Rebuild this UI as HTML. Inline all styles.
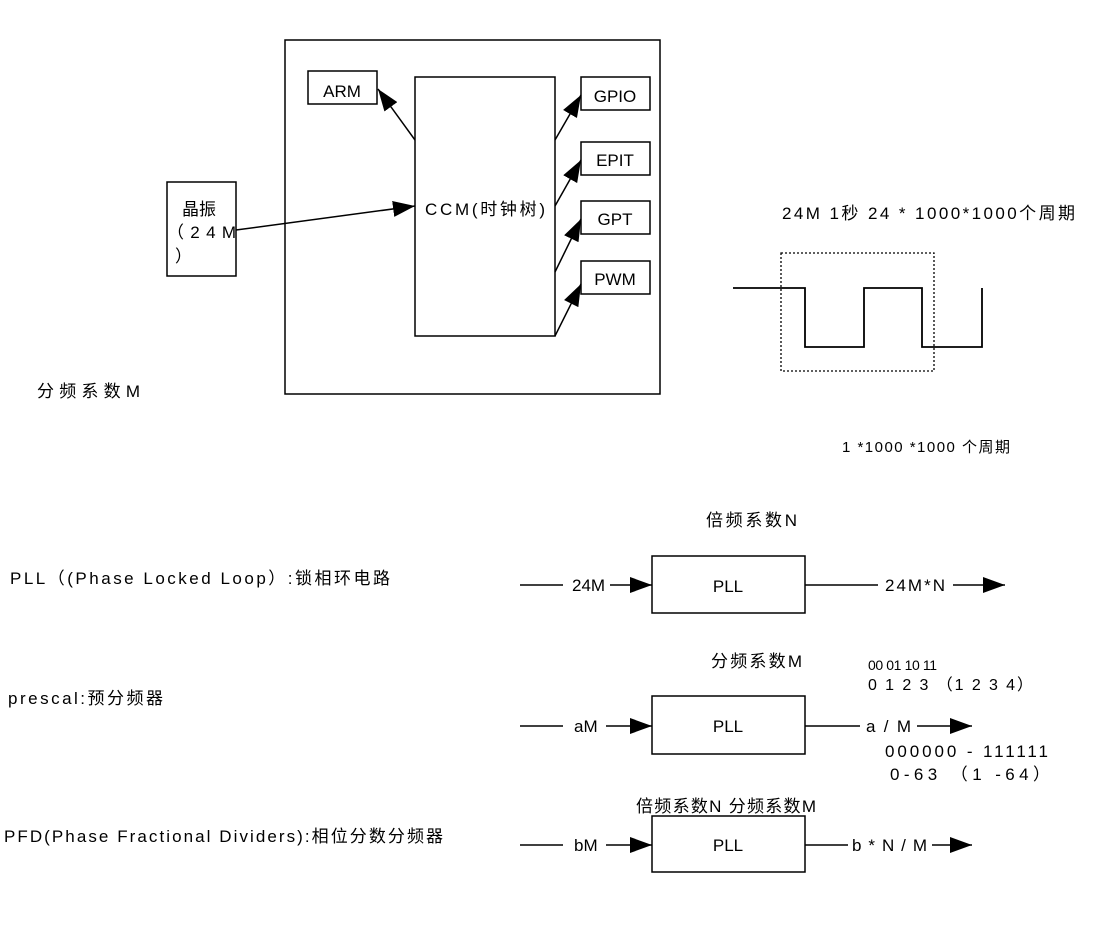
<!DOCTYPE html>
<html><head><meta charset="utf-8"><style>
html,body{margin:0;padding:0;background:#fff;}
svg text{font-family:"Liberation Sans","Noto Sans CJK SC",sans-serif;font-size:17px;fill:#000;}
</style></head><body>
<svg width="1100" height="946" viewBox="0 0 1100 946" xmlns="http://www.w3.org/2000/svg">
<defs>
<marker id="ah2" markerWidth="22" markerHeight="16" refX="22" refY="8" orient="auto" markerUnits="userSpaceOnUse" viewBox="0 0 22 16">
<path d="M0,0 L22,8 L0,16 z" fill="#000"/></marker>
</defs>
<g fill="none" stroke="#000" stroke-width="1.5">
<rect x="285" y="40" width="375" height="354"/>
<rect x="308" y="71" width="69" height="33"/>
<rect x="415" y="77" width="140" height="259"/>
<rect x="581" y="77" width="69" height="33"/>
<rect x="581" y="142" width="69" height="33"/>
<rect x="581" y="201" width="69" height="33"/>
<rect x="581" y="261" width="69" height="33"/>
<rect x="167" y="182" width="69" height="94"/>
<line x1="236" y1="230" x2="415" y2="206" marker-end="url(#ah2)"/>
<line x1="415" y1="140" x2="378" y2="89" marker-end="url(#ah2)"/>
<line x1="555" y1="140" x2="581" y2="95" marker-end="url(#ah2)"/>
<line x1="555" y1="206" x2="581" y2="160" marker-end="url(#ah2)"/>
<line x1="555" y1="272" x2="581" y2="219" marker-end="url(#ah2)"/>
<line x1="555" y1="336" x2="581" y2="284" marker-end="url(#ah2)"/>
<polyline points="733,288 805,288 805,347 864,347 864,288 922,288 922,347 982,347 982,288" stroke-width="1.8"/>
<rect x="781" y="253" width="153" height="118" stroke-dasharray="2,2" stroke-width="1.3"/>
<rect x="652" y="556" width="153" height="57"/>
<rect x="652" y="696" width="153" height="58"/>
<rect x="652" y="816" width="153" height="56"/>
<line x1="520" y1="585" x2="563" y2="585"/>
<line x1="610" y1="585" x2="652" y2="585" marker-end="url(#ah2)"/>
<line x1="805" y1="585" x2="878" y2="585"/>
<line x1="953" y1="585" x2="1005" y2="585" marker-end="url(#ah2)"/>
<line x1="520" y1="726" x2="563" y2="726"/>
<line x1="606" y1="726" x2="652" y2="726" marker-end="url(#ah2)"/>
<line x1="805" y1="726" x2="860" y2="726"/>
<line x1="917" y1="726" x2="972" y2="726" marker-end="url(#ah2)"/>
<line x1="520" y1="845" x2="563" y2="845"/>
<line x1="606" y1="845" x2="652" y2="845" marker-end="url(#ah2)"/>
<line x1="805" y1="845" x2="848" y2="845"/>
<line x1="932" y1="845" x2="972" y2="845" marker-end="url(#ah2)"/>
</g>
<text x="342" y="97" text-anchor="middle">ARM</text>
<text x="615" y="102" text-anchor="middle">GPIO</text>
<text x="615" y="166" text-anchor="middle">EPIT</text>
<text x="615" y="225" text-anchor="middle">GPT</text>
<text x="615" y="285" text-anchor="middle">PWM</text>
<text x="425" y="215" textLength="120">CCM(时钟树)</text>
<text x="182" y="215">晶振</text>
<text x="167" y="238" textLength="69">（24M</text>
<text x="175" y="262">）</text>
<text x="782" y="219" textLength="293">24M  1秒 24 * 1000*1000个周期</text>
<text x="842" y="452" style="font-size:15px" textLength="168">1 *1000 *1000 个周期</text>
<text x="37" y="397" textLength="103">分频系数M</text>
<text x="706" y="526" textLength="91">倍频系数N</text>
<text x="10" y="584" textLength="380">PLL（(Phase Locked Loop）:锁相环电路</text>
<text x="728" y="592" text-anchor="middle">PLL</text>
<text x="572" y="591">24M</text>
<text x="885" y="591" textLength="60">24M*N</text>
<text x="711" y="667" textLength="91">分频系数M</text>
<text x="868" y="670" style="font-size:14px" textLength="69">00 01 10 11</text>
<text x="868" y="690" style="font-size:16px" textLength="165">0 1 2 3 （1 2 3 4）</text>
<text x="8" y="704" textLength="155">prescal:预分频器</text>
<text x="728" y="732" text-anchor="middle">PLL</text>
<text x="574" y="732">aM</text>
<text x="866" y="732" textLength="45">a / M</text>
<text x="885" y="757" textLength="163">000000 - 111111</text>
<text x="890" y="780" textLength="160">0-63 （1 -64）</text>
<text x="636" y="812" textLength="180">倍频系数N 分频系数M</text>
<text x="4" y="842" textLength="439">PFD(Phase Fractional Dividers):相位分数分频器</text>
<text x="728" y="851" text-anchor="middle">PLL</text>
<text x="574" y="851">bM</text>
<text x="852" y="851" textLength="75">b * N / M</text>
</svg>
</body></html>
